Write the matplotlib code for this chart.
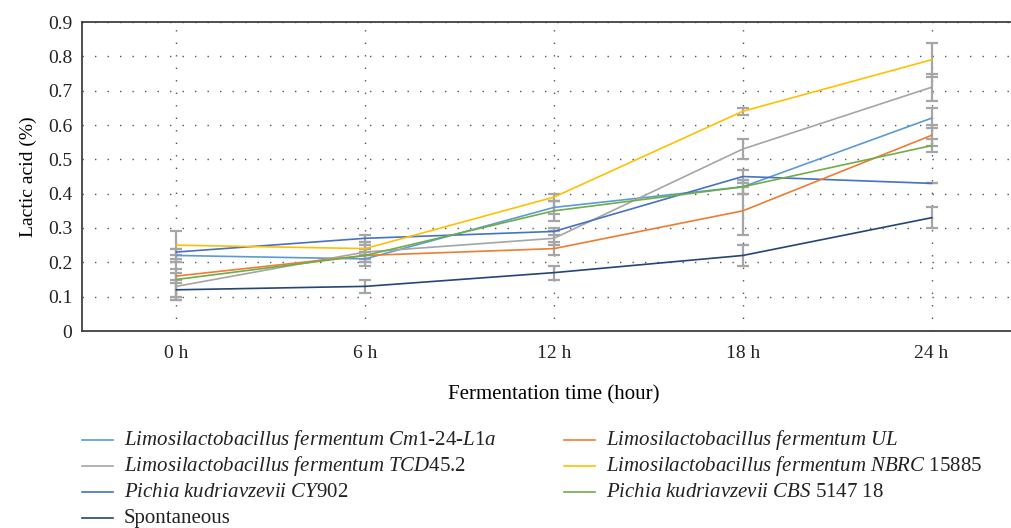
import numpy as np
from matplotlib import pyplot as plt
from matplotlib.lines import Line2D

plt.rcParams['font.family'] = 'Liberation Serif'
plt.rcParams['mathtext.fontset'] = 'custom'
plt.rcParams['mathtext.rm'] = 'Liberation Serif'
plt.rcParams['mathtext.it'] = 'Liberation Serif:italic'

# Lactic acid (%) during fermentation
times = ['0 h', '6 h', '12 h', '18 h', '24 h']

labels = [
    r'$\it{Limosilactobacillus\ fermentum\ Cm}$1-24-$\it{L1a}$',
    r'$\it{Limosilactobacillus\ fermentum\ TCD}$45.2',
    r'$\it{Pichia\ kudriavzevii\ CY}$902',
    'Spontaneous',
    r'$\it{Limosilactobacillus\ fermentum\ UL}$',
    r'$\it{Limosilactobacillus\ fermentum\ NBRC}$ 15885',
    r'$\it{Pichia\ kudriavzevii\ CBS}$ 5147 18',
]
colors = ['#5B9BD5', '#A5A5A5', '#4472C4', '#264478', '#ED7D31', '#FFC000', '#70AD47']

cm1 = [0.22, 0.21, 0.36, 0.42, 0.62]
tcd = [0.13, 0.23, 0.27, 0.53, 0.71]
cy902 = [0.23, 0.27, 0.29, 0.45, 0.43]
spont = [0.12, 0.13, 0.17, 0.22, 0.33]
ul = [0.16, 0.22, 0.24, 0.35, 0.57]
nbrc = [0.25, 0.24, 0.39, 0.64, 0.79]
cbs = [0.15, 0.22, 0.35, 0.42, 0.54]

cm1_err = [0.02, 0.02, 0.02, 0.02, 0.03]
tcd_err = [0.04, 0.02, 0.02, 0.03, 0.04]
cy902_err = [0.01, 0.01, 0.01, 0.02, 0.0]
spont_err = [0.03, 0.02, 0.02, 0.03, 0.03]
ul_err = [0.02, 0.02, 0.02, 0.07, 0.03]
nbrc_err = [0.04, 0.02, 0.01, 0.01, 0.05]
cbs_err = [0.05, 0.02, 0.03, 0.02, 0.02]

series = [cm1, tcd, cy902, spont, ul, nbrc, cbs]
errors = [cm1_err, tcd_err, cy902_err, spont_err, ul_err, nbrc_err, cbs_err]

W, H = 1011, 528
fig = plt.figure(figsize=(W / 100, H / 100), dpi=100)
ax = fig.add_axes([82 / W, 197 / H, 944 / W, 309 / H])

x = np.arange(len(times))
for vals, err in zip(series, errors):
    ax.errorbar(x, vals, yerr=err, fmt='none', ecolor='#A6A6A6',
                elinewidth=1.6, capsize=4.5, capthick=1.6, zorder=2)
for vals, lab, c in zip(series, labels, colors):
    ax.plot(x, vals, color=c, lw=1.2, label=lab, zorder=3)

ax.set_xlim(-0.5, 4.5)
ax.set_ylim(0, 0.9)
ax.set_xticks(x)
ax.set_xticklabels(times)
ax.set_yticks(np.arange(0, 0.91, 0.1))
ax.set_yticklabels(['0'] + ['%.1f' % v for v in np.arange(0.1, 0.91, 0.1)])
ax.tick_params(length=0, labelsize=14, colors='#222222')
ax.tick_params(axis='x', pad=10)
ax.tick_params(axis='y', pad=7)

ax.grid(True, color='#555555', linestyle=(0, (1, 8)), lw=1.0, zorder=0)
for s in ['left', 'bottom', 'top']:
    ax.spines[s].set_color('#404040')
    ax.spines[s].set_linewidth(1.3)
ax.spines['right'].set_visible(False)

ax.set_ylabel('Lactic acid (%)', fontsize=14, labelpad=8)
ax.set_xlabel('Fermentation time (hour)', fontsize=15, labelpad=17)

# legend drawn row by row so the rows stay evenly spaced
rows_y = [440, 466, 492, 518]
col_x = [82, 564]
for i, (lab, c) in enumerate(zip(labels, colors)):
    col = 0 if i < 4 else 1
    row = i if i < 4 else i - 4
    x0 = col_x[col]
    y0 = 1 - rows_y[row] / H
    fig.add_artist(Line2D([x0 / W, (x0 + 31) / W], [y0, y0], color=c, lw=1.2))
    fig.text((x0 + 42) / W, y0 - 5 / H, lab, fontsize=15, va='baseline',
             ha='left', color='#222222')

fig.savefig('out.png', dpi=100)
